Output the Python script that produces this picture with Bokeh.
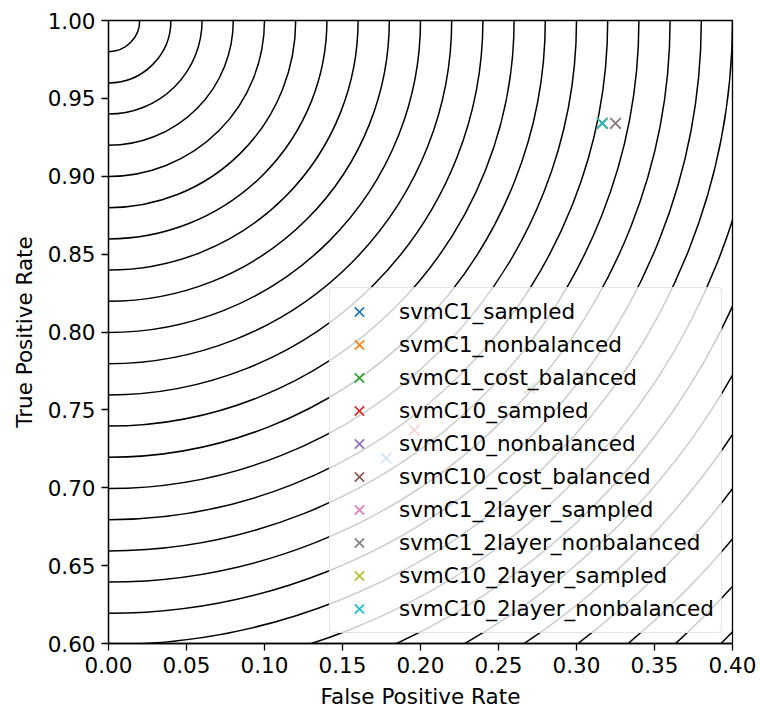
import numpy as np
from bokeh.plotting import figure
from bokeh.models import Range1d, FixedTicker, PrintfTickFormatter, Legend
from bokeh.embed import file_html
from bokeh.resources import INLINE

# --- data ---
labels = ["svmC1_sampled", "svmC1_nonbalanced", "svmC1_cost_balanced",
          "svmC10_sampled", "svmC10_nonbalanced", "svmC10_cost_balanced",
          "svmC1_2layer_sampled", "svmC1_2layer_nonbalanced",
          "svmC10_2layer_sampled", "svmC10_2layer_nonbalanced"]
fpr = [0.178, 0.270, 0.270, 0.196, 0.3165, 0.3165, 0.325, 0.325, 0.3165, 0.3165]
tpr = [0.719, 0.764, 0.764, 0.737, 0.934, 0.934, 0.934, 0.934, 0.934, 0.934]
colors = ["#1f77b4", "#ff7f0e", "#2ca02c", "#d62728", "#9467bd",
          "#8c564b", "#e377c2", "#7f7f7f", "#bcbd22", "#17becf"]
contour_radii = [0.02 * k for k in range(1, 29)]
x_ticks = [0.00, 0.05, 0.10, 0.15, 0.20, 0.25, 0.30, 0.35, 0.40]
y_ticks = [0.60, 0.65, 0.70, 0.75, 0.80, 0.85, 0.90, 0.95, 1.00]

FONT = "DejaVu Sans"
FS = "21.5px"

p = figure(width=760, height=713, output_backend="svg", toolbar_location=None,
           x_range=Range1d(0.0, 0.4), y_range=Range1d(0.6, 1.0),
           min_border_left=108, min_border_right=28, min_border_top=20,
           min_border_bottom=70)
p.grid.visible = False
p.outline_line_color = "black"
p.outline_line_width = 1.3
p.background_fill_color = "white"
p.border_fill_color = "white"

# contour circles around the ideal point (0, 1)
p.arc(x=[0.0] * len(contour_radii), y=[1.0] * len(contour_radii),
      radius=contour_radii, start_angle=-np.pi / 2, end_angle=0.0,
      line_color="black", line_width=1.5)

for lab, xv, yv, c in zip(labels, fpr, tpr, colors):
    p.scatter(x=[xv], y=[yv], marker="x", size=15, line_width=1.6,
              line_color=c, legend_label=lab)

for ax, ticks in ((p.xaxis[0], x_ticks), (p.yaxis[0], y_ticks)):
    ax.ticker = FixedTicker(ticks=ticks)
    ax.formatter = PrintfTickFormatter(format="%.2f")
    ax.major_tick_out = 7
    ax.major_tick_in = 0
    ax.minor_tick_line_color = None
    ax.major_label_text_font = FONT
    ax.major_label_text_font_size = FS
    ax.major_label_text_color = "black"
    ax.axis_label_text_font = FONT
    ax.axis_label_text_font_size = FS
    ax.axis_label_text_font_style = "normal"
    ax.axis_label_text_color = "black"
    ax.axis_line_color = "black"
    ax.axis_line_width = 1.3
    ax.major_tick_line_width = 1.3
    ax.major_label_standoff = 6
    ax.axis_label_standoff = 8

p.xaxis.axis_label = "False Positive Rate"
p.yaxis.axis_label = "True Positive Rate"

lg = p.legend[0]
lg.location = "bottom_right"
lg.margin = 10
lg.padding = 7
lg.spacing = 0
lg.glyph_width = 44
lg.glyph_height = 33
lg.label_height = 24
lg.label_standoff = 18
lg.label_text_font = FONT
lg.label_text_font_size = FS
lg.label_text_color = "black"
lg.background_fill_color = "white"
lg.background_fill_alpha = 0.8
lg.border_line_color = "#cccccc"
lg.border_line_width = 1.5
if "border_radius" in Legend.properties():
    lg.border_radius = 4

open("out.html", "w").write(file_html(p, INLINE))
